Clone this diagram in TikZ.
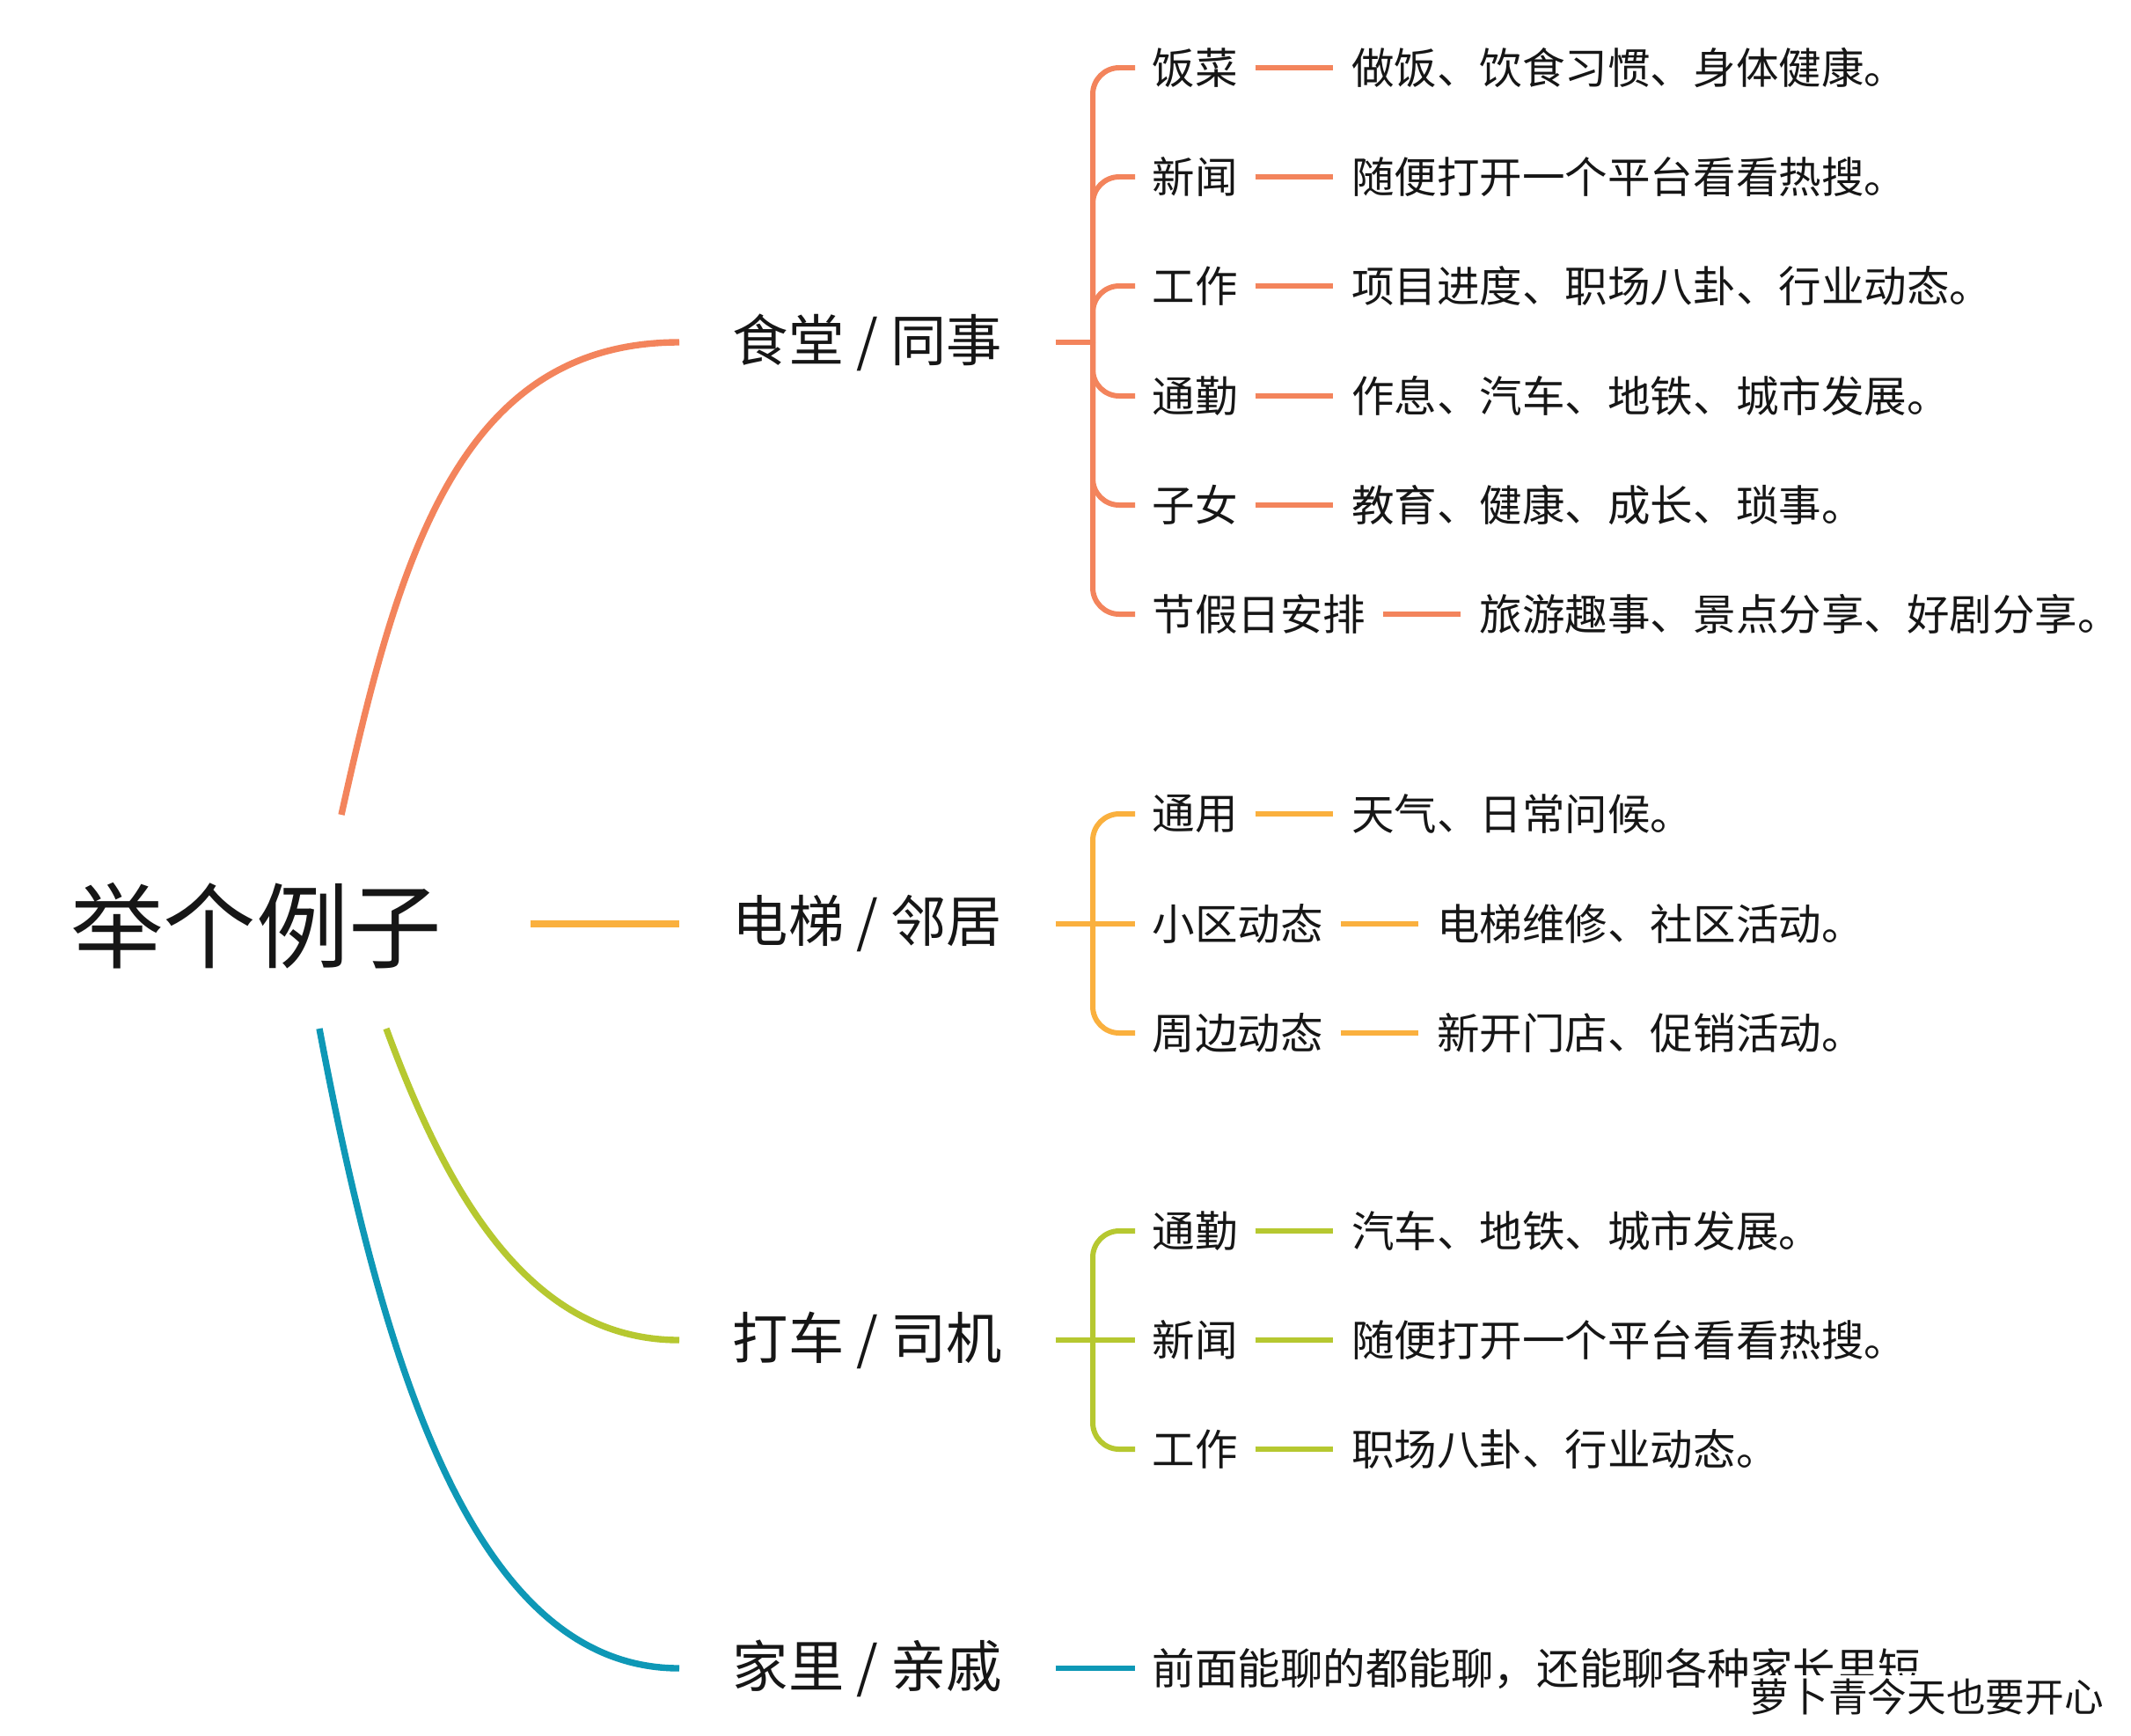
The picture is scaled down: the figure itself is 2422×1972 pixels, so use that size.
\documentclass[tikz,border=0pt]{standalone}
\usepackage{fontspec}
\setmainfont{Noto Sans CJK SC}
\usetikzlibrary{positioning}
\definecolor{cO}{RGB}{243,132,92}
\definecolor{cY}{RGB}{250,176,62}
\definecolor{cG}{RGB}{182,200,48}
\definecolor{cB}{RGB}{14,152,182}
\definecolor{ink}{RGB}{22,22,22}
\begin{document}
\begin{tikzpicture}[x=0.01cm,y=-0.01cm,
  rootnode/.style={font=\fontsize{30pt}{36pt}\selectfont, text=ink, inner xsep=1cm, inner ysep=0pt},
  topic/.style={anchor=west, font=\fontsize{18pt}{22pt}\selectfont, text=ink, inner xsep=0.6cm, inner ysep=0pt},
  sub/.style={anchor=west, font=\fontsize{13.8pt}{17pt}\selectfont, text=ink, inner xsep=0.19cm, inner ysep=0pt},
  leaf/.style={sub, inner xsep=0.21cm},
  mainline/.style={line width=2.1pt},
  branch/.style={line width=1.7pt},
  brk/.style={line width=1.7pt, rounded corners=0.3cm}]
\fill[white] (0,0) rectangle (2422,1972);
\useasboundingbox (0,0) rectangle (2422,1972);

% root
\node[rootnode] (root) at (291,1052) {举个例子};
\coordinate (sO) at (388,926);
\coordinate (sG) at (439,1169);
\coordinate (sB) at (363,1169);

% topics
\node[topic] (t1) at (772,389) {食堂 / 同事};
\node[topic] (t2) at (772,1050) {电梯 / 邻居};
\node[topic] (t3) at (772,1523) {打车 / 司机};
\node[topic] (t4) at (772,1896) {家里 / 亲戚};

\draw[mainline,cO] (sO) .. controls (453,633) and (522,389) .. (t1.west);
\draw[mainline,cY] (root.east |- t2.west) -- (t2.west);
\draw[mainline,cG] (sG) .. controls (508,1357) and (602,1523) .. (t3.west);
\draw[mainline,cB] (sB) .. controls (437,1562) and (542,1896) .. (t4.west);

% group 1
\coordinate (b1) at (1242,389);
\node[sub] (o1) at (1290,77) {饭菜};
\node[sub] (o2) at (1290,201) {新闻};
\node[sub] (o3) at (1290,325) {工作};
\node[sub] (o4) at (1290,450) {通勤};
\node[sub] (o5) at (1290,574) {子女};
\node[sub] (o6) at (1290,698) {节假日安排};
\node[leaf, right=0.88cm of o1] (o1l) {做饭、饮食习惯、身体健康。};
\node[leaf, right=0.88cm of o2] (o2l) {随便打开一个平台看看热搜。};
\node[leaf, right=0.88cm of o3] (o3l) {项目进度、职场八卦、行业动态。};
\node[leaf, right=0.88cm of o4] (o4l) {作息、汽车、地铁、城市发展。};
\node[leaf, right=0.88cm of o5] (o5l) {教育、健康、成长、琐事。};
\node[leaf, right=0.88cm of o6] (o6l) {旅游趣事、景点分享、好剧分享。};
\draw[branch,cO] (t1.east) -- (b1);
\foreach \c in {o1,o2,o3,o4,o5,o6}{
  \draw[brk,cO] (b1) |- (\c.west);
  \draw[branch,cO] (\c.east) -- (\c l.west);
}

% group 2
\coordinate (b2) at (1242,1050);
\node[sub] (y1) at (1290,925) {通用};
\node[sub] (y2) at (1290,1050) {小区动态};
\node[sub] (y3) at (1290,1174) {周边动态};
\node[leaf, right=0.88cm of y1] (y1l) {天气、日常问候。};
\node[leaf, right=0.88cm of y2] (y2l) {电梯维修、社区活动。};
\node[leaf, right=0.88cm of y3] (y3l) {新开门店、促销活动。};
\draw[branch,cY] (t2.east) -- (y2.west);
\draw[brk,cY] (b2) |- (y1.west);
\draw[brk,cY] (b2) |- (y3.west);
\foreach \c in {y1,y2,y3}{
  \draw[branch,cY] (\c.east) -- (\c l.west);
}

% group 3
\coordinate (b3) at (1242,1523);
\node[sub] (g1) at (1290,1399) {通勤};
\node[sub] (g2) at (1290,1523) {新闻};
\node[sub] (g3) at (1290,1647) {工作};
\node[leaf, right=0.88cm of g1] (g1l) {汽车、地铁、城市发展。};
\node[leaf, right=0.88cm of g2] (g2l) {随便打开一个平台看看热搜。};
\node[leaf, right=0.88cm of g3] (g3l) {职场八卦、行业动态。};
\draw[branch,cG] (t3.east) -- (g2.west);
\draw[brk,cG] (b3) |- (g1.west);
\draw[brk,cG] (b3) |- (g3.west);
\foreach \c in {g1,g2,g3}{
  \draw[branch,cG] (\c.east) -- (\c l.west);
}

% group 4
\node[sub] (f1) at (1290,1896) {前面能聊的都能聊，还能聊各种家长里短};
\draw[branch,cB] (t4.east) -- (f1.west);

% watermark
\node[fill=white, inner sep=1pt, anchor=east, text=ink, font=\fontsize{12.7pt}{15pt}\selectfont] (wm) at (2395,1928) {萝卜青今天也要开心};
\end{tikzpicture}
\end{document}
